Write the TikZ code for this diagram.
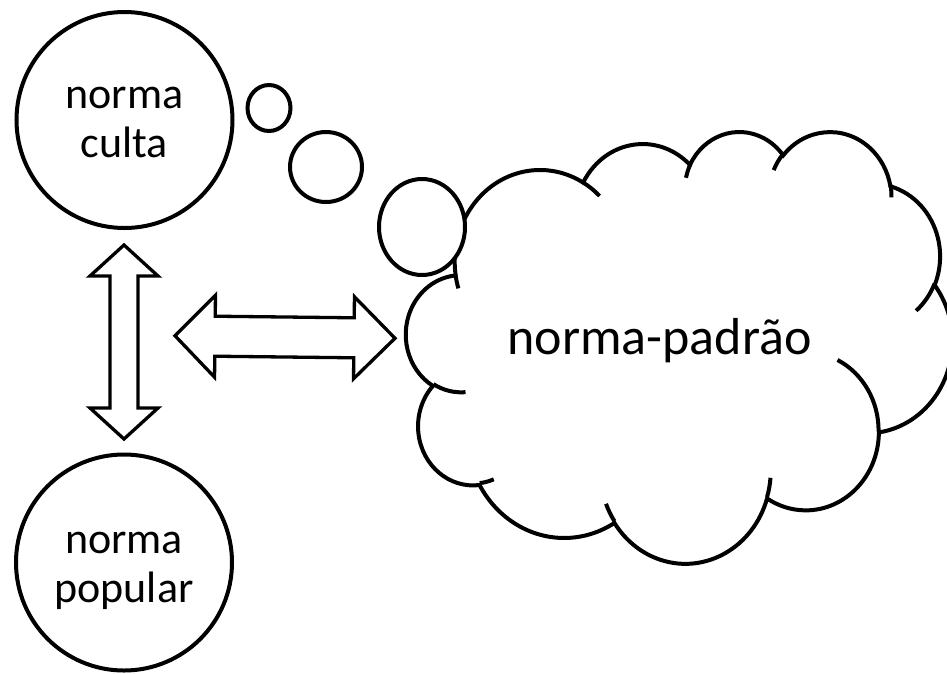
\documentclass[tikz,border=0pt]{standalone}
\usepackage{fontspec}
\setmainfont{Carlito}
\usetikzlibrary{shapes.geometric}

% Turn an elliptical arc given by a visual start angle and a sweep into the
% parametric start/end angles used by TikZ; stores \cld<name>s and \cld<name>e.
\newcommand\cloudarcangles[5]{%
  \pgfmathsetmacro\cldtmpS{atan2((#2)*sin(#4),(#3)*cos(#4))}%
  \pgfmathsetmacro\cldtmpE{atan2((#2)*sin((#4)+(#5)),(#3)*cos((#4)+(#5)))}%
  \pgfmathsetmacro\cldtmpE{(\cldtmpE<\cldtmpS) ? (\cldtmpE+360) : \cldtmpE}%
  \expandafter\xdef\csname cld#1s\endcsname{\cldtmpS}%
  \expandafter\xdef\csname cld#1e\endcsname{\cldtmpE}%
}

\tikzset{
  outline/.style={draw=black, line width=4pt},
  cloudline/.style={draw=black, line width=4pt, line join=miter},
  bubble/.style={ellipse, draw=black, fill=white, line width=4pt, inner sep=0pt},
  normcircle/.style={circle, draw=black, line width=4pt, inner sep=0pt, minimum size=216},
  blockarrow/.style={draw=black, fill=white, line width=3.3pt, line join=miter},
  circtext/.style={font=\fontsize{44}{49}\selectfont, align=center, inner sep=0pt},
  cloudtext/.style={font=\fontsize{52}{60}\selectfont, inner sep=0pt},
}

\begin{document}
\begin{tikzpicture}[x=1pt, y=-1pt]
  % page frame
  \fill[white] (0,0) rectangle (947,673);
  \useasboundingbox (0,0) rectangle (947,673);
  \clip (0,0) rectangle (947,673);

  % arc angles of the cloud outline (radii in thousandths of the frame)
  \cloudarcangles{A}{6.753}{9.190}{-190.48749}{123.78053}
  \cloudarcangles{B}{5.333}{7.267}{-144.10238}{89.94523}
  \cloudarcangles{C}{4.365}{5.945}{-145.80792}{99.72302}
  \cloudarcangles{D}{4.857}{6.595}{-130.98607}{117.24173}
  \cloudarcangles{E}{5.333}{7.273}{-78.70888}{109.02692}
  \cloudarcangles{F}{6.775}{9.220}{-46.26725}{130.26900}
  \cloudarcangles{G}{5.785}{7.867}{0.62502}{114.03333}
  \cloudarcangles{H}{6.752}{9.215}{22.45160}{115.17255}
  \cloudarcangles{I}{7.720}{10.543}{66.24263}{75.71102}
  \cloudarcangles{J}{4.360}{5.918}{-274.94208}{146.73557}
  \cloudarcangles{K}{4.345}{5.945}{-246.82850}{152.51885}
  % inner creases of the cloud
  \cloudarcangles{a}{4.345}{5.945}{86.74200}{26.42950}
  \cloudarcangles{b}{4.360}{5.918}{73.61047}{11.44747}
  \cloudarcangles{c}{6.752}{9.215}{137.62415}{14.08110}
  \cloudarcangles{d}{6.752}{9.215}{6.45327}{15.99835}
  \cloudarcangles{e}{5.785}{7.867}{-70.29235}{70.91737}
  \cloudarcangles{f}{5.333}{7.273}{30.31803}{27.75150}
  \cloudarcangles{g}{4.857}{6.595}{-13.74433}{14.85890}
  \cloudarcangles{h}{4.857}{6.595}{-149.18145}{18.19537}
  \cloudarcangles{i}{4.365}{5.945}{-163.49427}{17.68635}
  \cloudarcangles{j}{6.753}{9.190}{-66.70695}{12.31935}
  \cloudarcangles{k}{6.753}{9.190}{157.65435}{11.85817}

  % cloud
  \begin{scope}[shift={(406.2,130.6)}, x=12.637pt, y=-9.992pt]
    \draw[cloudline] (3.900,14.370)
      arc[x radius=6.753, y radius=9.190,  start angle=\cldAs, end angle=\cldAe]
      arc[x radius=5.333, y radius=7.267,  start angle=\cldBs, end angle=\cldBe]
      arc[x radius=4.365, y radius=5.945,  start angle=\cldCs, end angle=\cldCe]
      arc[x radius=4.857, y radius=6.595,  start angle=\cldDs, end angle=\cldDe]
      arc[x radius=5.333, y radius=7.273,  start angle=\cldEs, end angle=\cldEe]
      arc[x radius=6.775, y radius=9.220,  start angle=\cldFs, end angle=\cldFe]
      arc[x radius=5.785, y radius=7.867,  start angle=\cldGs, end angle=\cldGe]
      arc[x radius=6.752, y radius=9.215,  start angle=\cldHs, end angle=\cldHe]
      arc[x radius=7.720, y radius=10.543, start angle=\cldIs, end angle=\cldIe]
      arc[x radius=4.360, y radius=5.918,  start angle=\cldJs, end angle=\cldJe]
      arc[x radius=4.345, y radius=5.945,  start angle=\cldKs, end angle=\cldKe]
      -- cycle;
    \draw[cloudline] (4.693,26.177)  arc[x radius=4.345, y radius=5.945, start angle=\cldas, end angle=\cldae];
    \draw[cloudline] (6.928,34.899)  arc[x radius=4.360, y radius=5.918, start angle=\cldbs, end angle=\cldbe];
    \draw[cloudline] (16.478,39.090) arc[x radius=6.752, y radius=9.215, start angle=\cldcs, end angle=\cldce];
    \draw[cloudline] (28.827,34.751) arc[x radius=6.752, y radius=9.215, start angle=\cldds, end angle=\cldde];
    \draw[cloudline] (34.129,22.954) arc[x radius=5.785, y radius=7.867, start angle=\cldes, end angle=\cldee];
    \draw[cloudline] (41.798,15.354) arc[x radius=5.333, y radius=7.273, start angle=\cldfs, end angle=\cldfe];
    \draw[cloudline] (38.324,5.426)  arc[x radius=4.857, y radius=6.595, start angle=\cldgs, end angle=\cldge];
    \draw[cloudline] (29.078,3.952)  arc[x radius=4.857, y radius=6.595, start angle=\cldhs, end angle=\cldhe];
    \draw[cloudline] (22.141,4.720)  arc[x radius=4.365, y radius=5.945, start angle=\cldis, end angle=\cldie];
    \draw[cloudline] (14.000,5.192)  arc[x radius=6.753, y radius=9.190, start angle=\cldjs, end angle=\cldje];
    \draw[cloudline] (4.127,15.789)  arc[x radius=6.753, y radius=9.190, start angle=\cldks, end angle=\cldke];
  \end{scope}
  \node[cloudtext, anchor=base] (padrao) at (659.5,354.5) {norma-padrão};

  % thought bubbles leading from the cloud
  \node[bubble, minimum width=43, minimum height=46] (bubbleA) at (269,108) {};
  \node[bubble, minimum width=72, minimum height=70] (bubbleB) at (326,167) {};
  \node[bubble, minimum width=86, minimum height=96] (bubbleC) at (422,227) {};

  % the two circles
  \node[normcircle] (culta) at (124.5,120) {};
  \node[circtext] (cultatext) at (124.5,122.3) {norma\\culta};
  \node[normcircle] (popular) at (124,562.5) {};
  \node[circtext] (populartext) at (124,570.6) {norma\\popular};

  % vertical double block arrow
  \draw[blockarrow] (124,245) -- (158,276) -- (138,276) -- (138,408) -- (158,408)
    -- (124,439) -- (90,408) -- (110,408) -- (110,276) -- (90,276) -- cycle;

  % horizontal double block arrow, very slightly tilted
  \begin{scope}[rotate around={-0.65:(285,337)}]
    \draw[blockarrow] (175,337) -- (215,296) -- (215,317) -- (354,317) -- (354,296)
      -- (395,337) -- (354,378) -- (354,357) -- (215,357) -- (215,378) -- cycle;
  \end{scope}
\end{tikzpicture}
\end{document}
